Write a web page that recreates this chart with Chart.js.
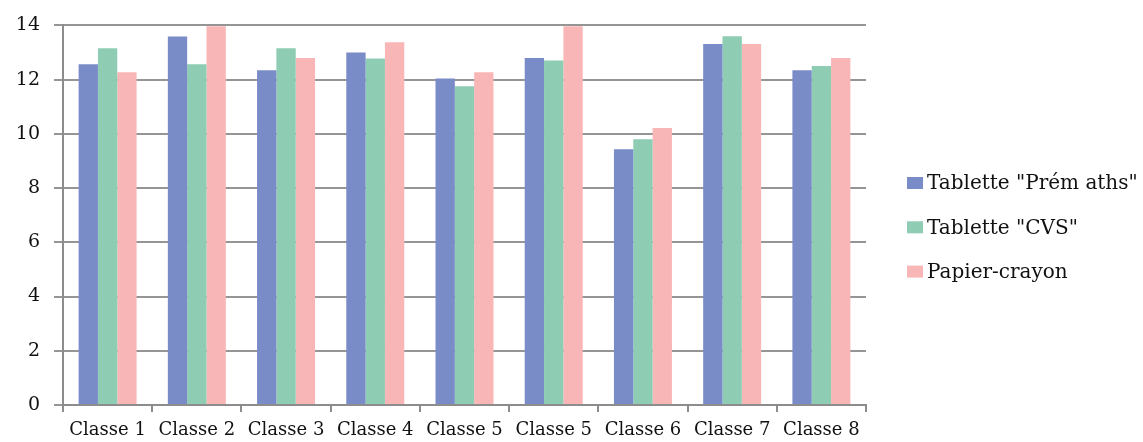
<!DOCTYPE html>
<html>
<head>
<meta charset="utf-8">
<script src="https://cdn.jsdelivr.net/npm/chart.js@4/dist/chart.umd.min.js"></script>
<style>
  html, body { margin: 0; padding: 0; background: #fff; }
  #wrap { position: relative; width: 1143px; height: 442px; }
</style>
</head>
<body>
<div id="wrap"><canvas id="c" width="1143" height="442"></canvas></div>
<script>
// Categories and scores per evaluation mode
const classes = ["Classe 1", "Classe 2", "Classe 3", "Classe 4", "Classe 5", "Classe 5", "Classe 6", "Classe 7", "Classe 8"];
const premaths = [12.57, 13.59, 12.35, 13.0, 12.04, 12.8, 9.43, 13.31, 12.35];
const cvs = [13.16, 12.57, 13.16, 12.78, 11.76, 12.71, 9.8, 13.6, 12.5];
const papier = [12.27, 13.97, 12.8, 13.38, 12.27, 13.97, 10.22, 13.31, 12.8];
const seriesNames = ['Tablette "Prém aths"', 'Tablette "CVS"', 'Papier-crayon'];
const yTicks = [0, 2, 4, 6, 8, 10, 12, 14];

const FONT = "'DejaVu Serif', 'Liberation Serif', serif";
const colors = ["#7a8cc7", "#8ecdb4", "#f8b7b6"];

// Legend drawn to the right of the plot, built from the datasets
const sideLegend = {
  id: "sideLegend",
  afterDraw(chart) {
    const ctx = chart.ctx;
    ctx.save();
    ctx.font = "20px " + FONT;
    ctx.textBaseline = "middle";
    chart.data.datasets.forEach((ds, i) => {
      const cy = 183 + i * 44.3;
      ctx.fillStyle = ds.backgroundColor;
      ctx.fillRect(907, cy - 6, 16, 12);
      ctx.fillStyle = "#111";
      ctx.fillText(ds.label, 927, cy + 1);
    });
    ctx.restore();
  }
};

new Chart(document.getElementById("c"), {
  type: "bar",
  data: {
    labels: classes,
    datasets: [
      { label: seriesNames[0], data: premaths, backgroundColor: colors[0] },
      { label: seriesNames[1], data: cvs, backgroundColor: colors[1] },
      { label: seriesNames[2], data: papier, backgroundColor: colors[2] }
    ]
  },
  options: {
    responsive: false,
    animation: false,
    devicePixelRatio: 1,
    layout: { padding: { top: 19, right: 277, left: 0, bottom: 0 } },
    datasets: { bar: { categoryPercentage: 0.65, barPercentage: 1.0 } },
    plugins: { legend: { display: false }, tooltip: { enabled: false } },
    scales: {
      x: {
        offset: true,
        grid: { offset: true, drawOnChartArea: false, drawTicks: true, tickLength: 7, color: "#8c8c8c", lineWidth: 2 },
        border: { color: "#8c8c8c", width: 2 },
        ticks: { color: "#111", font: { family: FONT, size: 18 }, padding: 8, maxRotation: 0, autoSkip: false },
        afterFit(scale) { scale.height = 37; }
      },
      y: {
        min: 0, max: 14,
        afterBuildTicks(scale) { scale.ticks = yTicks.map(v => ({ value: v })); },
        grid: { color: "#959595", lineWidth: 2, tickLength: 9 },
        border: { color: "#8c8c8c", width: 2 },
        ticks: { color: "#111", font: { family: FONT, size: 19 }, padding: 14 },
        afterFit(scale) { scale.width = 63; }
      }
    }
  },
  plugins: [sideLegend]
});
</script>
</body>
</html>
